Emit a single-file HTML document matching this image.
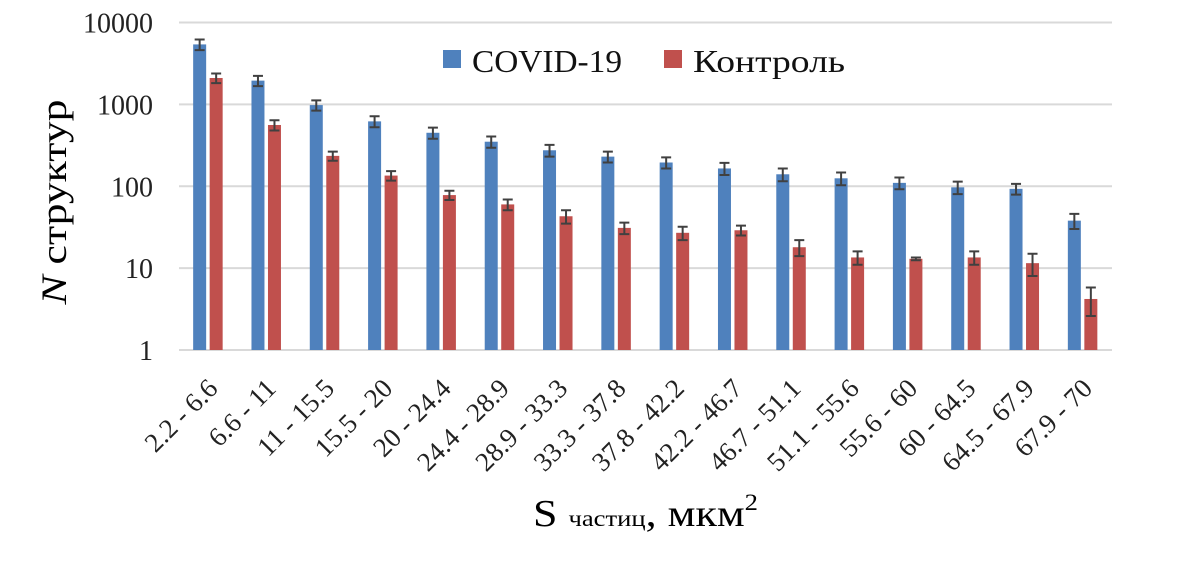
<!DOCTYPE html>
<html><head><meta charset="utf-8"><style>
body{margin:0;background:#fff;}
svg{display:block;font-family:"Liberation Serif","DejaVu Serif",serif;}
</style></head><body>
<svg id="chart" width="1187" height="570">
<g id="grid"></g><g id="bars"></g><g id="ylabels"></g><g id="xlabels"></g>
<text x="66" y="202" transform="rotate(-90 66 202)" text-anchor="middle" font-size="36" textLength="205" lengthAdjust="spacingAndGlyphs" fill="#000"><tspan font-style="italic">N</tspan> структур</text>
<text x="533" y="526" font-size="38" textLength="225" lengthAdjust="spacingAndGlyphs" fill="#000">S <tspan font-size="23">частиц</tspan>, мкм<tspan font-size="23" dy="-16">2</tspan></text>
<g>
<rect x="443" y="50" width="18" height="18" fill="#4f81bd"/>
<text x="472" y="72" font-size="32" textLength="150" lengthAdjust="spacingAndGlyphs" fill="#111">COVID-19</text>
<rect x="664" y="50" width="18" height="18" fill="#c0504d"/>
<text x="693" y="72" font-size="32" textLength="152" lengthAdjust="spacingAndGlyphs" fill="#111">Контроль</text>
</g>
</svg>
<script>
const categories=["2.2 - 6.6","6.6 - 11","11 - 15.5","15.5 - 20","20 - 24.4","24.4 - 28.9","28.9 - 33.3","33.3 - 37.8","37.8 - 42.2","42.2 - 46.7","46.7 - 51.1","51.1 - 55.6","55.6 - 60","60 - 64.5","64.5 - 67.9","67.9 - 70"];
const covid=[5400,1950,980,620,450,350,275,230,195,165,140,125,110,97,93,38];
const covidErr=[800,280,140,95,70,55,45,35,30,28,25,22,18,17,14,8];
const control=[2100,560,235,135,78,60,43,31,27,29,18,13.5,13,13.5,11.5,4.2];
const controlErr=[280,80,30,18,10,9,8,5,5,4,4,2.5,0.5,2.5,3.5,1.6];
const yTicks=[1,10,100,1000,10000];
const NS="http://www.w3.org/2000/svg";
const x0=179,x1=1112,yTop=22.5,yBot=350;
const y=v=>yBot-(Math.log10(v))*(yBot-yTop)/4;
const bw=(x1-x0)/categories.length;
const el=(t,a,p)=>{const e=document.createElementNS(NS,t);for(const k in a)e.setAttribute(k,a[k]);p.appendChild(e);return e;};
const grid=document.getElementById('grid'),bars=document.getElementById('bars'),yl=document.getElementById('ylabels'),xl=document.getElementById('xlabels');
yTicks.forEach(t=>{
 const l=el('line',{x1:x0,x2:x1,y1:y(t),y2:y(t),stroke:'#d9d9d9','stroke-width':2},grid);
 
 
 const tx=el('text',{x:153,y:y(t)+10,'text-anchor':'end','font-size':28,fill:'#222'},yl);
 tx.textContent=t;
 
 
});
function bar(cx,v,err,color,name){
 const r=el('rect',{x:cx-6.5,y:y(v),width:13,height:yBot-y(v),fill:color},bars);
 
 
 const hi=y(v+err),lo=y(Math.max(v-err,0.5));
 const g=el('path',{d:`M${cx},${hi}V${lo}M${cx-5},${hi}H${cx+5}M${cx-5},${lo}H${cx+5}`,stroke:'#404040','stroke-width':2,fill:'none'},bars);
 
 
}
categories.forEach((c,i)=>{
 const cx=x0+bw*(i+0.5);
 bar(cx-8.5,covid[i],covidErr[i],'#4f81bd','bar-covid');
 bar(cx+8,control[i],controlErr[i],'#c0504d','bar-control');
 const ax=cx+11,ay=390;
 const t=el('text',{x:ax,y:ay,'text-anchor':'end','font-size':27,fill:'#222',transform:`rotate(-45 ${ax} ${ay})`},xl);
 t.textContent=c;
 
 
});
</script>
</body></html>
